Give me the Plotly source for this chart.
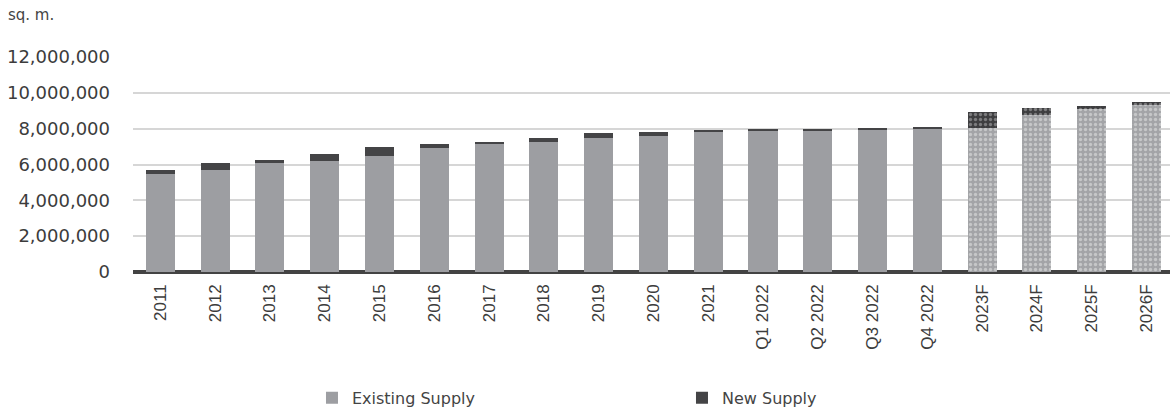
import plotly.graph_objects as go

# Office stock by period (sq. m.)
periods = ["2011", "2012", "2013", "2014", "2015", "2016", "2017", "2018", "2019",
           "2020", "2021", "Q1 2022", "Q2 2022", "Q3 2022", "Q4 2022",
           "2023F", "2024F", "2025F", "2026F"]
existing_supply = [5450000, 5680000, 6080000, 6190000, 6490000, 6900000, 7150000,
                   7230000, 7490000, 7570000, 7850000, 7900000, 7910000, 7950000,
                   8030000, 8010000, 8770000, 9120000, 9330000]
new_supply = [220000, 400000, 190000, 390000, 480000, 260000, 100000, 260000,
              280000, 240000, 50000, 30000, 30000, 40000, 60000, 930000, 410000,
              150000, 180000]
forecast_from = 15  # first forecast period index

y_ticks = [0, 2000000, 4000000, 6000000, 8000000, 10000000, 12000000]

EXISTING = "#9d9ea2"
NEW = "#444446"

hist = slice(0, forecast_from)
fc = slice(forecast_from, None)

fig = go.Figure()
fig.add_bar(x=periods[hist], y=existing_supply[hist], name="Existing Supply",
            marker=dict(color=EXISTING, line=dict(width=0)), legendrank=1)
fig.add_bar(x=periods[hist], y=new_supply[hist], name="New Supply",
            marker=dict(color=NEW, line=dict(width=0)), legendrank=2)
fig.add_bar(x=periods[fc], y=existing_supply[fc], name="Existing Supply",
            showlegend=False,
            marker=dict(color=EXISTING, line=dict(width=0),
                        pattern=dict(shape=".", bgcolor="#a3a4a7", fgcolor="#e9e9ea",
                                     size=5, solidity=0.35)))
fig.add_bar(x=periods[fc], y=new_supply[fc], name="New Supply",
            showlegend=False,
            marker=dict(color=NEW, line=dict(width=0),
                        pattern=dict(shape=".", bgcolor="#3e3e40", fgcolor="#b9b9bb",
                                     size=5, solidity=0.35)))

fig.update_layout(
    width=1170, height=411,
    margin=dict(l=133, r=0, t=57, b=139, autoexpand=False),
    barmode="stack", bargap=0.47,
    plot_bgcolor="white", paper_bgcolor="white",
    font=dict(family="DejaVu Sans", color="#3c3c3c"),
    showlegend=True,
    legend=dict(orientation="h", x=0.1726, xanchor="left", y=-0.585, yanchor="middle",
                entrywidth=325, entrywidthmode="pixels",
                font=dict(family="DejaVu Sans", size=16, color="#444444"),
                traceorder="normal"),
    annotations=[dict(text="sq. m.", xref="paper", yref="paper",
                      x=-0.1225, y=1.195, xanchor="left", yanchor="middle",
                      showarrow=False,
                      font=dict(family="DejaVu Sans", size=15, color="#444444"))],
)

fig.update_xaxes(
    type="category", range=[-0.5, 18.43],
    tickangle=-90, tickfont=dict(family="Liberation Sans", size=17, color="#3c3c3c"),
    showgrid=False, ticks="", ticklabelstandoff=8,
    showline=False, zeroline=False,
)
fig.update_yaxes(
    range=[0, 12000000], tickvals=y_ticks,
    tickformat=",d", tickfont=dict(family="DejaVu Sans", size=18, color="#3c3c3c"),
    showgrid=True, gridcolor="#d6d6d6", gridwidth=1.6,
    zeroline=True, zerolinecolor="#434343", zerolinewidth=3.5,
    showline=False, ticks="", ticklabelstandoff=22,
)

fig.write_html("out.html")
